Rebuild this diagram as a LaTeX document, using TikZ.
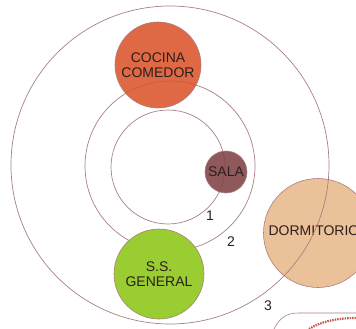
\documentclass[tikz,border=0pt]{standalone}
\usepackage{fontspec}
\setmainfont{Liberation Sans}
\usepackage{xcolor}
\usepackage{tikz}
\usetikzlibrary{positioning}
\definecolor{CocinaRed}{RGB}{217,84,42}
\definecolor{SalaBrown}{RGB}{128,66,70}
\definecolor{GenGreen}{RGB}{154,205,50}
\definecolor{DormPeach}{RGB}{233,186,142}
\definecolor{RingLine}{RGB}{168,128,128}
\definecolor{RoomText}{RGB}{45,30,30}
\definecolor{SealRed}{RGB}{190,90,80}
\tikzset{
  room/.style={circle,draw=RingLine,line width=0.6pt,inner sep=0pt,align=center,text=RoomText,font=\fontsize{14}{15}\selectfont},
  ring/.style={draw=RingLine,line width=0.7pt},
  num/.style={text=RoomText,font=\fontsize{14}{15}\selectfont},
}
\begin{document}
\begin{tikzpicture}[x=1pt,y=-1pt]
    \useasboundingbox (0,0) rectangle (356,329);
    \node[room,fill=DormPeach,fill opacity=0.9,text opacity=1,minimum size=109pt] (dorm) at (318,233) {};
    \node[num] (dormtxt) at (314,231) {DORMITORIO};
    % anillos
    \draw[ring] (170,165) circle[radius=159];
    \draw[ring] (170,166) circle[radius=85];
    \draw[ring] (168,167) circle[radius=57];
    \node[room,fill=CocinaRed,fill opacity=0.88,text opacity=1,minimum size=86pt] (cocina) at (158,65) {COCINA\\COMEDOR};
    \node[room,fill=SalaBrown,fill opacity=0.88,text opacity=1,minimum size=42pt] (sala) at (226,172) {SALA};
    \node[room,fill=GenGreen,minimum size=90pt] (ssgen) at (159,274) {S.S.\\GENERAL};
    \node[num] (n1) at (210,216) {1};
    \node[num] (n2) at (231,242) {2};
    \node[num] (n3) at (268,306) {3};
    % sello (recorte)
    \draw[RingLine,line width=0.6pt] (274,329) .. controls (280,317) and (287,313) .. (299,313) -- (356,313);
    \draw[SealRed,line width=2.2pt,dash pattern=on 1.5pt off 1pt] (309,329) .. controls (320,322) and (336,318) .. (356,318);
  \end{tikzpicture}
\end{document}
